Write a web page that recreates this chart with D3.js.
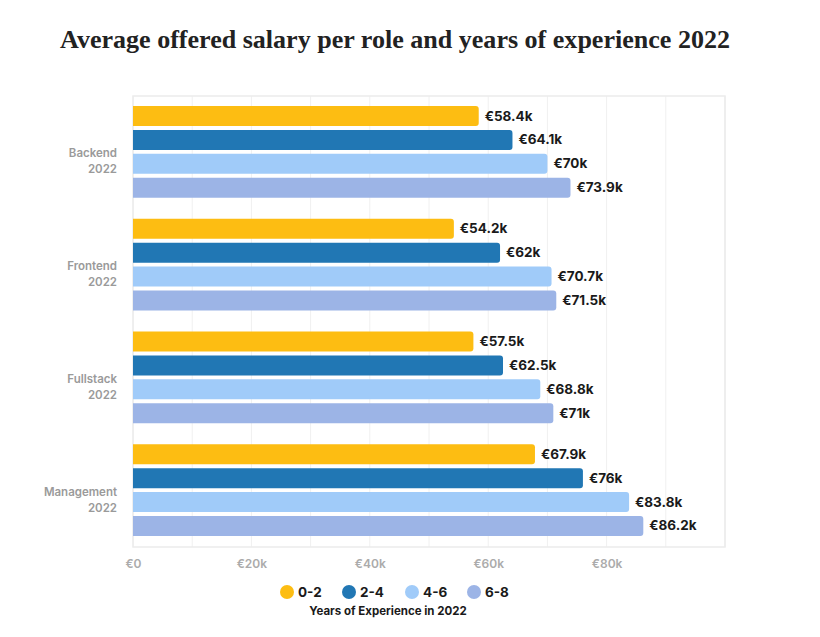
<!DOCTYPE html>
<html><head><meta charset="utf-8">
<script src="https://cdn.jsdelivr.net/npm/d3@7"></script>
<style>body{margin:0;background:#fff}</style>
</head><body>
<svg id="c" width="820" height="637"></svg>
<script>
const roles = ["Backend", "Frontend", "Fullstack", "Management"];
const yearLabel = "2022";
const experience = ["0-2", "2-4", "4-6", "6-8"];
const colors = ["#FDBD12", "#2177B4", "#A0CBF9", "#9CB4E6"];
const salaries = {
  "0-2": [58.4, 54.2, 57.5, 67.9],
  "2-4": [64.1, 62, 62.5, 76],
  "4-6": [70, 70.7, 68.8, 83.8],
  "6-8": [73.9, 71.5, 71, 86.2]
};
const tickValues = [0, 20, 40, 60, 80];
const gridValues = [0,10,20,30,40,50,60,70,80,90,100];

const svg = d3.select("#c");
const font = "'Inter','Lato','Noto Sans',sans-serif";
const L = 133, R = 725, T = 96, B = 547;

svg.append("text").attr("x", 60).attr("y", 48)
  .attr("font-family", "'Liberation Serif','DejaVu Serif',serif")
  .attr("font-weight", "bold").attr("font-size", 25).attr("fill", "#222")
  .attr("textLength", 670).attr("lengthAdjust", "spacingAndGlyphs")
  .text("Average offered salary per role and years of experience 2022");

const x = d3.scaleLinear().domain([0, 100]).range([L, R]);
const y = d3.scaleBand().domain(roles).range([T, B]).paddingInner(0).paddingOuter(0);
const yi = d3.scaleBand().domain(experience).range([10, y.bandwidth() - 11]).paddingInner(0.16);

// grid
svg.append("g").selectAll("line").data(gridValues).join("line")
  .attr("x1", d => x(d)).attr("x2", d => x(d)).attr("y1", T).attr("y2", B)
  .attr("stroke", "#f0f0f0").attr("stroke-width", 1);
svg.append("rect").attr("x", L).attr("y", T).attr("width", R - L).attr("height", B - T)
  .attr("fill", "none").attr("stroke", "#ebebeb").attr("stroke-width", 1.5);

// bars
const g = svg.append("g").selectAll("g").data(roles).join("g")
  .attr("transform", d => `translate(0,${y(d)})`);
g.each(function(role, ri) {
  const sel = d3.select(this);
  experience.forEach((e, ei) => {
    const v = salaries[e][ri];
    sel.append("path")
      .attr("d", () => {
        const x0 = x(0), x1 = x(v), y0 = yi(e), h = yi.bandwidth(), r = 3;
        return `M${x0},${y0}H${x1 - r}Q${x1},${y0} ${x1},${y0 + r}V${y0 + h - r}Q${x1},${y0 + h} ${x1 - r},${y0 + h}H${x0}Z`;
      })
      .attr("fill", colors[ei]);
    sel.append("text").attr("x", x(v) + 6).attr("y", yi(e) + yi.bandwidth() / 2 + 4.5)
      .attr("font-family", font).attr("font-weight", 700).attr("font-size", 13.5)
      .attr("fill", "#1a1a1a").text("€" + v + "k");
  });
  const cy = y.bandwidth() / 2;
  const t = sel.append("text").attr("text-anchor", "end").attr("font-family", font)
    .attr("font-weight", 600).attr("font-size", 11.5).attr("fill", "#9a9a9a");
  t.append("tspan").attr("x", 117).attr("y", cy + 5).text(role);
  t.append("tspan").attr("x", 117).attr("y", cy + 21).text(yearLabel);
});

// x axis
const ax = svg.append("g").attr("transform", `translate(0,${B})`)
  .call(d3.axisBottom(x).tickValues(tickValues).tickSize(0).tickPadding(12)
    .tickFormat(d => d === 0 ? "€0" : "€" + d + "k"));
ax.select(".domain").remove();
ax.selectAll("text").attr("font-family", font).attr("font-weight", 600)
  .attr("font-size", 12).attr("fill", "#ababab");

// legend
const legX = [287, 349, 412, 474];
const lg = svg.append("g").selectAll("g").data(experience).join("g")
  .attr("transform", (d, i) => `translate(${legX[i]},592)`);
lg.append("circle").attr("r", 7).attr("fill", (d, i) => colors[i]);
lg.append("text").attr("x", 11).attr("y", 5).attr("font-family", font)
  .attr("font-weight", 700).attr("font-size", 13.5).attr("fill", "#1a1a1a").text(d => d);
svg.append("text").attr("x", 388).attr("y", 615).attr("text-anchor", "middle")
  .attr("font-family", font).attr("font-weight", 700).attr("font-size", 11.5)
  .attr("fill", "#1a1a1a").text("Years of Experience in " + yearLabel);
</script>
</body></html>
